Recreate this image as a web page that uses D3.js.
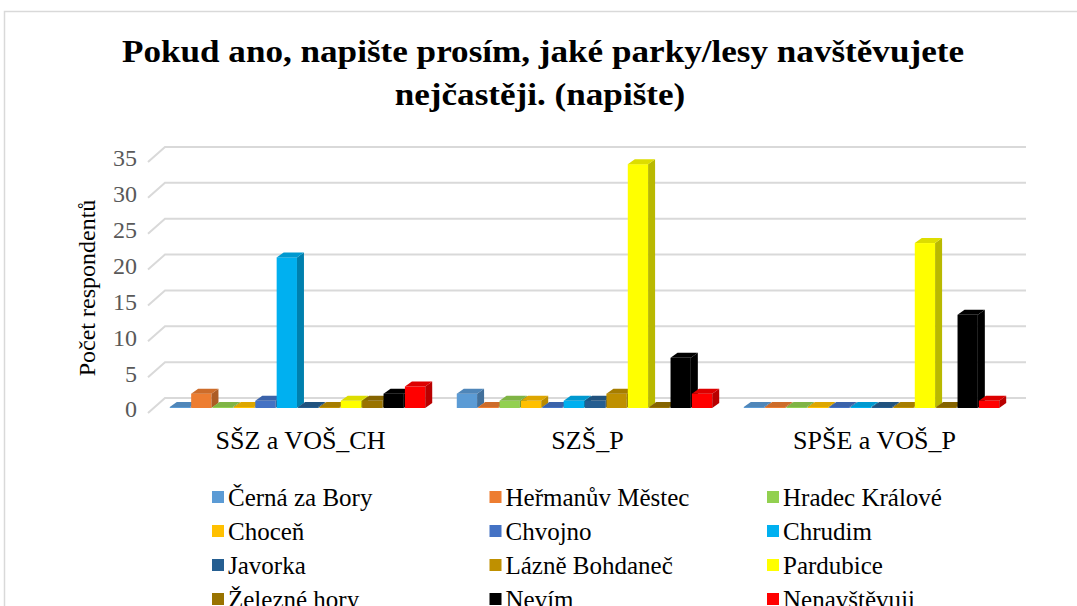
<!DOCTYPE html>
<html>
<head>
<meta charset="utf-8">
<script src="https://cdn.jsdelivr.net/npm/d3@7"></script>
<style>
  body { margin: 0; background: #fff; }
</style>
</head>
<body>
<div id="chart"></div>
<script>
width = 1077;
height = 606;

//////// Data ////////
const groups = ["SŠZ a VOŠ_CH", "SZŠ_P", "SPŠE a VOŠ_P"];
const places = ["Černá za Bory", "Heřmanův Městec", "Hradec Králové", "Choceň", "Chvojno", "Chrudim",
                "Javorka", "Lázně Bohdaneč", "Pardubice", "Železné hory", "Nevím", "Nenavštěvuji"];
const placeColors = ["#5B9BD5", "#ED7D31", "#92D050", "#FFC000", "#4472C4", "#00B0F0",
                     "#255E91", "#BF9000", "#FFFF00", "#997300", "#000000", "#FF0000"];
const valuesSSZ  = [0, 2, 0, 0, 1, 21, 0, 0, 1, 1, 2, 3];
const valuesSZS  = [2, 0, 1, 1, 0, 1, 1, 2, 34, 0, 7, 2];
const valuesSPSE = [0, 0, 0, 0, 0, 0, 0, 0, 23, 0, 13, 1];
const yTicks = [0, 5, 10, 15, 20, 25, 30, 35];

const groupValues = [valuesSSZ, valuesSZS, valuesSPSE];

// 3d offsets (floor front -> back wall, floor front -> bar plane, bar depth)
const wall = {dx: 17, dy: 15};
const plane = {dx: 6, dy: 5};
const depth = {dx: 7, dy: 5};

//////// Scales ////////
const xScale = d3.scaleBand()
    .domain(groups)
    .range([148, 1009])
    .paddingInner(0.11)
    .paddingOuter(0.055);

const xInner = d3.scaleBand()
    .domain(places)
    .range([0, xScale.bandwidth()])
    .paddingInner(0.05);

const yScale = d3.scaleLinear()
    .domain([0, 35])
    .range([413, 162]);

const colorScale = d3.scaleOrdinal()
    .domain(places)
    .range(placeColors);

const svg = d3.select("#chart").append("svg")
    .attr("width", width)
    .attr("height", height)
    .style("font-family", "Liberation Serif");

// chart border
svg.append("rect")
    .attr("x", 4.5).attr("y", 11.5)
    .attr("width", width).attr("height", height)
    .attr("fill", "none")
    .attr("stroke", "#d9d9d9")
    .attr("stroke-width", 1.5);

//////// Title ////////
const title = svg.append("g").attr("class", "title")
    .attr("font-weight", "bold")
    .attr("font-size", 32)
    .attr("text-anchor", "middle");
const t1 = title.append("text").attr("x", 543).attr("y", 62)
    .text("Pokud ano, napište prosím, jaké parky/lesy navštěvujete");
const t2 = title.append("text").attr("x", 540).attr("y", 105)
    .text("nejčastěji. (napište)");
const k = 842 / t1.node().getComputedTextLength();
t1.attr("textLength", 842).attr("lengthAdjust", "spacingAndGlyphs");
t2.attr("textLength", t2.node().getComputedTextLength() * k).attr("lengthAdjust", "spacingAndGlyphs");

//////// Gridlines ////////
svg.append("g").attr("class", "grid")
    .selectAll("polyline")
    .data(yTicks)
    .join("polyline")
    .attr("points", d => {
        const y = yScale(d);
        return [[148, y], [148 + wall.dx, y - wall.dy], [1026, y - wall.dy]].join(" ");
    })
    .attr("fill", "none")
    .attr("stroke", "#d9d9d9")
    .attr("stroke-width", 2);

// tick labels
svg.append("g").attr("class", "y-ticks")
    .selectAll("text")
    .data(yTicks)
    .join("text")
    .attr("x", 137)
    .attr("y", d => yScale(d) - 4)
    .attr("dy", "0.35em")
    .attr("text-anchor", "end")
    .attr("font-size", 24)
    .attr("fill", "#595959")
    .text(d => d);

// y axis title
svg.append("text")
    .attr("transform", "translate(95,288) rotate(-90)")
    .attr("text-anchor", "middle")
    .attr("font-size", 24)
    .text("Počet respondentů");

//////// Bars ////////
const bars = [];
groups.forEach((g, gi) => {
    places.forEach((p, i) => {
        bars.push({group: g, place: p, value: groupValues[gi][i]});
    });
});

const barG = svg.append("g").attr("class", "bars")
    .selectAll("g")
    .data(bars)
    .join("g");

barG.each(function(d) {
    const g = d3.select(this);
    const w = xInner.bandwidth();
    const x0 = xScale(d.group) + xInner(d.place) + plane.dx;
    const yB = yScale(0) - plane.dy;
    const yT = Math.min(yScale(d.value) - plane.dy, yB - 1);
    const c = colorScale(d.place);
    // front
    g.append("rect")
        .attr("x", x0).attr("y", yT)
        .attr("width", w).attr("height", yB - yT)
        .attr("fill", c);
    // side
    g.append("polygon")
        .attr("points", [[x0 + w, yT], [x0 + w + depth.dx, yT - depth.dy],
                         [x0 + w + depth.dx, yB - depth.dy], [x0 + w, yB]].join(" "))
        .attr("fill", d3.color(c).darker(0.9));
    // top
    g.append("polygon")
        .attr("points", [[x0, yT], [x0 + w, yT], [x0 + w + depth.dx, yT - depth.dy],
                         [x0 + depth.dx, yT - depth.dy]].join(" "))
        .attr("fill", d3.color(c).darker(0.4));
});

// category labels
svg.append("g").attr("class", "x-labels")
    .selectAll("text")
    .data(groups)
    .join("text")
    .attr("x", d => xScale(d) + xScale.bandwidth() / 2 + 9)
    .attr("y", 449)
    .attr("text-anchor", "middle")
    .attr("font-size", 26)
    .text(d => d);

//////// Legend ////////
const legend = svg.append("g").attr("class", "legend")
    .selectAll("g")
    .data(places)
    .join("g")
    .attr("transform", (d, i) => `translate(${212 + (i % 3) * 277.5},${497 + Math.floor(i / 3) * 34})`);

legend.append("rect")
    .attr("x", 0).attr("y", -6)
    .attr("width", 12).attr("height", 12)
    .attr("fill", d => colorScale(d));

legend.append("text")
    .attr("x", 16)
    .attr("y", 0)
    .attr("dy", "0.35em")
    .attr("font-size", 25)
    .text(d => d);
</script>
</body>
</html>
